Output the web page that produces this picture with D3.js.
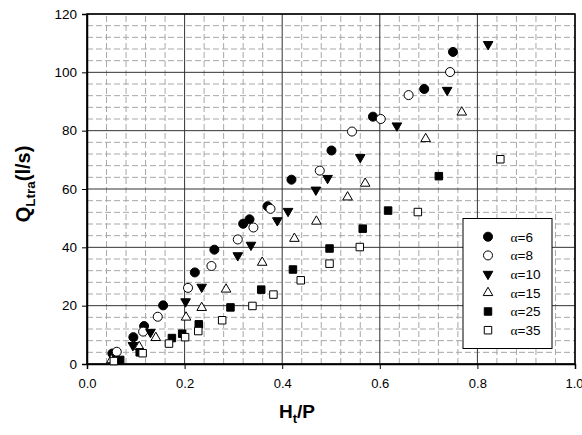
<!DOCTYPE html>
<html>
<head>
<meta charset="utf-8">
<script src="https://cdn.jsdelivr.net/npm/d3@7"></script>
<style>
body { margin: 0; background: #fff; }
svg { display: block; font-family: Arial, "Liberation Sans", sans-serif; }
</style>
</head>
<body>
<svg width="582" height="435"></svg>
<script>
// ---- data ----
var xTicks = [0, 0.2, 0.4, 0.6, 0.8, 1.0];
var yTicks = [0, 20, 40, 60, 80, 100, 120];
var seriesNames = ['6', '8', '10', '15', '25', '35'];

var a6x  = [0.052, 0.095, 0.117, 0.156, 0.221, 0.261, 0.320, 0.333, 0.370, 0.419, 0.501, 0.586, 0.691, 0.750];
var a6y  = [3.6, 9.2, 13.0, 20.1, 31.4, 39.2, 48.1, 49.6, 54.1, 63.2, 73.2, 84.8, 94.3, 107.0];
var a8x  = [0.061, 0.115, 0.145, 0.207, 0.255, 0.309, 0.341, 0.376, 0.477, 0.543, 0.602, 0.659, 0.744];
var a8y  = [4.2, 11.1, 16.2, 26.1, 33.6, 42.7, 46.8, 53.2, 66.3, 79.7, 84.0, 92.2, 100.1];
var a10x = [0.094, 0.130, 0.202, 0.235, 0.309, 0.336, 0.390, 0.412, 0.469, 0.493, 0.560, 0.635, 0.738, 0.822];
var a10y = [6.4, 10.9, 21.4, 26.4, 37.2, 40.8, 49.2, 52.4, 59.7, 63.7, 70.9, 81.7, 93.9, 109.6];
var a15x = [0.050, 0.107, 0.141, 0.203, 0.235, 0.285, 0.359, 0.425, 0.470, 0.534, 0.570, 0.694, 0.768];
var a15y = [1.4, 5.9, 9.0, 16.0, 19.3, 25.6, 34.8, 43.0, 48.9, 57.2, 61.9, 77.2, 86.3];
var a25x = [0.068, 0.108, 0.174, 0.195, 0.229, 0.294, 0.357, 0.422, 0.497, 0.565, 0.617, 0.721];
var a25y = [1.4, 4.0, 8.9, 10.4, 13.6, 19.4, 25.5, 32.4, 39.6, 46.4, 52.6, 64.4];
var a35x = [0.055, 0.114, 0.168, 0.201, 0.228, 0.277, 0.339, 0.382, 0.438, 0.497, 0.559, 0.678, 0.847];
var a35y = [1.0, 3.7, 7.0, 9.2, 11.3, 15.0, 19.9, 23.8, 28.7, 34.4, 40.1, 52.1, 70.2];

var svg = d3.select('svg');

var x = d3.scaleLinear().domain([0, 1]).range([87, 575]);
var y = d3.scaleLinear().domain([0, 120]).range([364, 14]);

// marker styles per series
var styles = [
    { shape: d3.symbolCircle,   size: 64, fill: '#000', rot: 0 },
    { shape: d3.symbolCircle,   size: 64, fill: '#fff', rot: 0 },
    { shape: d3.symbolTriangle, size: 40, fill: '#000', rot: 180 },
    { shape: d3.symbolTriangle, size: 40, fill: '#fff', rot: 0 },
    { shape: d3.symbolSquare,   size: 56, fill: '#000', rot: 0 },
    { shape: d3.symbolSquare,   size: 56, fill: '#fff', rot: 0 }
];

var series = [[a6x, a6y], [a8x, a8y], [a10x, a10y], [a15x, a15y], [a25x, a25y], [a35x, a35y]]
    .map(function(s, i) {
        return {
            name: seriesNames[i],
            style: styles[i],
            points: s[0].map(function(v, j) { return { x: v, y: s[1][j] }; })
        };
    });

// minor grid (dashed gray)
var minorX = d3.range(0, 1.0001, 0.04).filter(function(v) { return Math.abs(v / 0.2 - Math.round(v / 0.2)) > 1e-6; });
var minorY = d3.range(0, 120.001, 4).filter(function(v) { return v % 20 !== 0; });

var grid = svg.append('g').attr('class', 'grid');
grid.selectAll('.minor-x')
    .data(minorX)
    .enter()
    .append('line')
    .attr('x1', function(d) { return x(d); })
    .attr('x2', function(d) { return x(d); })
    .attr('y1', y(0))
    .attr('y2', y(120))
    .attr('stroke', '#a8a8a8')
    .attr('stroke-dasharray', '6,3');
grid.selectAll('.minor-y')
    .data(minorY)
    .enter()
    .append('line')
    .attr('y1', function(d) { return y(d); })
    .attr('y2', function(d) { return y(d); })
    .attr('x1', x(0))
    .attr('x2', x(1))
    .attr('stroke', '#a8a8a8')
    .attr('stroke-dasharray', '6,3');

// major grid
grid.selectAll('.major-x')
    .data(xTicks)
    .enter()
    .append('line')
    .attr('x1', function(d) { return x(d); })
    .attr('x2', function(d) { return x(d); })
    .attr('y1', y(0))
    .attr('y2', y(120))
    .attr('stroke', '#333');
grid.selectAll('.major-y')
    .data(yTicks)
    .enter()
    .append('line')
    .attr('y1', function(d) { return y(d); })
    .attr('y2', function(d) { return y(d); })
    .attr('x1', x(0))
    .attr('x2', x(1))
    .attr('stroke', '#333');

// frame
svg.append('rect')
    .attr('x', x(0))
    .attr('y', y(120))
    .attr('width', x(1) - x(0))
    .attr('height', y(0) - y(120))
    .attr('fill', 'none')
    .attr('stroke', '#000')
    .attr('stroke-width', 1.5);

// axes
var yAxis = svg.append('g')
    .attr('transform', 'translate(' + x(0) + ',0)')
    .call(d3.axisLeft(y).tickValues(yTicks).tickSize(5).tickPadding(5).tickFormat(d3.format('d')));
var xAxis = svg.append('g')
    .attr('transform', 'translate(0,' + y(0) + ')')
    .call(d3.axisBottom(x).tickValues(xTicks).tickSize(5).tickPadding(10).tickFormat(d3.format('.1f')));
[xAxis, yAxis].forEach(function(a) {
    a.select('.domain').attr('stroke-width', 1.5);
    a.selectAll('text').attr('fill', '#000')
        .attr('font-family', 'Arial, "Liberation Sans", sans-serif');
});
yAxis.selectAll('text').attr('font-size', 13.5);
xAxis.selectAll('text').attr('font-size', 13);
// last x label sits at the right edge: anchor it so it stays inside the page
xAxis.selectAll('.tick text')
    .filter(function(d) { return d === 1; })
    .attr('text-anchor', 'end')
    .attr('dx', '8');

// points
var pointsG = svg.append('g').attr('class', 'points');
series.forEach(function(s) {
    var sym = d3.symbol().type(s.style.shape).size(s.style.size);
    pointsG.selectAll(null)
        .data(s.points)
        .enter()
        .append('path')
        .attr('d', sym)
        .attr('transform', function(d) {
            return 'translate(' + x(d.x) + ',' + y(d.y) + ') rotate(' + s.style.rot + ')';
        })
        .attr('fill', s.style.fill)
        .attr('stroke', '#000')
        .attr('stroke-width', 1);
});

// legend
var legend = svg.append('g').attr('class', 'legend');
legend.append('rect')
    .attr('x', 463)
    .attr('y', 218.5)
    .attr('width', 89)
    .attr('height', 130)
    .attr('fill', '#fff')
    .attr('stroke', '#000');

var legendItems = legend.selectAll('.item')
    .data(series)
    .enter()
    .append('g')
    .attr('transform', function(d, i) { return 'translate(0,' + (236.7 + i * 18.7) + ')'; });
legendItems.append('path')
    .attr('d', function(d) { return d3.symbol().type(d.style.shape).size(d.style.size)(); })
    .attr('transform', function(d) { return 'translate(488,0) rotate(' + d.style.rot + ')'; })
    .attr('fill', function(d) { return d.style.fill; })
    .attr('stroke', '#000');
var lt = legendItems.append('text')
    .attr('x', 510.5)
    .attr('dy', '0.36em')
    .attr('font-size', 13.5);
lt.append('tspan')
    .attr('font-family', '"Liberation Serif", "Times New Roman", serif')
    .text('\u03b1');
lt.append('tspan')
    .text(function(d) { return '=' + d.name; });

// axis titles
var xt = svg.append('text')
    .attr('x', 297)
    .attr('y', 418)
    .attr('text-anchor', 'middle')
    .attr('font-weight', 'bold')
    .attr('font-size', 19);
xt.append('tspan').text('H');
xt.append('tspan').attr('font-size', 13).attr('dy', 5).text('t');
xt.append('tspan').attr('dy', -5).text('/P');

var yt = svg.append('text')
    .attr('transform', 'translate(30,184) rotate(-90)')
    .attr('text-anchor', 'middle')
    .attr('font-weight', 'bold')
    .attr('font-size', 20);
yt.append('tspan').text('Q');
yt.append('tspan').attr('font-size', 13.5).attr('dy', 5).text('Ltra');
yt.append('tspan').attr('dy', -5).text('(l/s)');
</script>
</body>
</html>
